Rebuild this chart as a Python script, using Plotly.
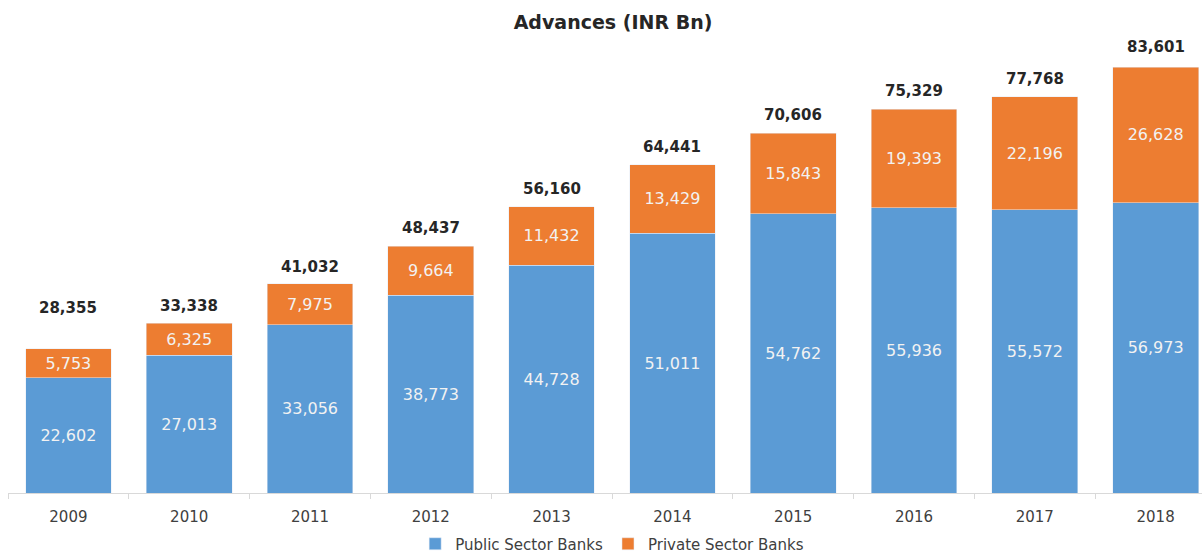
import plotly.graph_objects as go

years = ["2009", "2010", "2011", "2012", "2013", "2014", "2015", "2016", "2017", "2018"]
public = [22602, 27013, 33056, 38773, 44728, 51011, 54762, 55936, 55572, 56973]
private = [5753, 6325, 7975, 9664, 11432, 13429, 15843, 19393, 22196, 26628]
totals = [28355, 33338, 41032, 48437, 56160, 64441, 70606, 75329, 77768, 83601]
total_shift = [41, 17, 17, 18, 18, 18, 18, 18, 18, 20]

FONT = "DejaVu Sans"

fig = go.Figure()
fig.add_trace(go.Bar(
    x=years, y=public, name="Public Sector Banks", marker_color="#5B9BD5",
    text=[f"{v:,}" for v in public], textposition="inside", insidetextanchor="middle",
    textfont=dict(color="#F2F2F2", size=16, family=FONT), constraintext="none",
))
fig.add_trace(go.Bar(
    x=years, y=private, name="Private Sector Banks", marker_color="#ED7D31",
    text=[f"{v:,}" for v in private], textposition="inside", insidetextanchor="middle",
    textfont=dict(color="#F2F2F2", size=16, family=FONT), constraintext="none",
))

for i, (t, s) in enumerate(zip(totals, total_shift)):
    fig.add_annotation(x=i, xref="x", y=t, yref="y", text=f"<b>{t:,}</b>", showarrow=False,
                       yshift=s, font=dict(size=15, color="#262626", family=FONT))

fig.update_layout(
    width=1202, height=556,
    margin=dict(l=8, r=0, t=40, b=63, autoexpand=False),
    barmode="stack", bargap=0.29,
    paper_bgcolor="white", plot_bgcolor="white",
    font=dict(family=FONT, color="#404040"),
    title=dict(text="<b>Advances (INR Bn)</b>", x=0.51, xanchor="center", y=0.96, yanchor="middle",
               font=dict(size=19, color="#262626", family=FONT)),
    showlegend=True,
    legend=dict(orientation="h", x=0.506, xanchor="center", yref="container",
                y=(556 - 544) / 556, yanchor="middle",
                font=dict(size=15, color="#404040", family=FONT), traceorder="normal",
                itemwidth=30),
    xaxis=dict(type="category", range=[-0.5, 9.384], showline=True, linecolor="#D9D9D9",
               linewidth=1, ticks="outside", tickson="boundaries", ticklen=5, tickcolor="#D9D9D9",
               ticklabelstandoff=10, automargin=False,
               tickfont=dict(size=15, color="#404040", family=FONT), showgrid=False),
    yaxis=dict(range=[0, 88900], visible=False, showgrid=False),
)

fig.write_html("out.html")
